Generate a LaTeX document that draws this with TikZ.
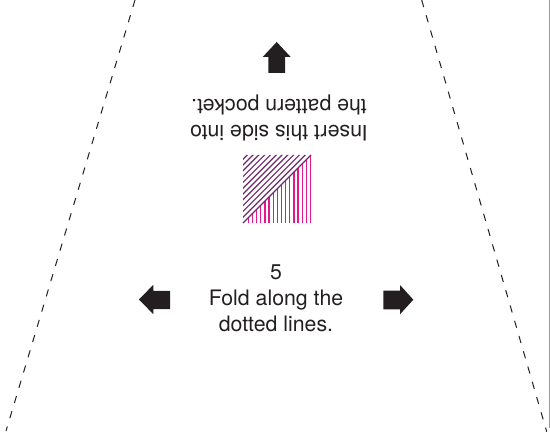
\documentclass[tikz,border=0pt]{standalone}
\usepackage{fontspec}
\setmainfont{TeX Gyre Heros}
\definecolor{ink}{HTML}{231F20}
\definecolor{hatchpurple}{HTML}{6E2A6A}
\definecolor{hatchpink}{HTML}{E5178C}
\tikzset{
  foldline/.style={draw=ink, line width=1pt, dash pattern=on 7.3pt off 8.6pt},
  arrowshape/.style={fill=ink, draw=none},
  lbltext/.style={text=ink, font=\fontsize{21.3}{26}\selectfont, inner sep=0pt, align=center},
  purplehatch/.style={draw=hatchpurple, line width=1.2pt},
  pinkhatch/.style={draw=hatchpink, line width=1.3pt}
}
\begin{document}
\begin{tikzpicture}[x=1pt,y=-1pt]
\useasboundingbox (0,0) rectangle (550,433);
% fold lines
\coordinate (lt) at (135,0);
\coordinate (lb) at (6,431);
\coordinate (rt) at (421.7,0);
\coordinate (rb) at (546.7,431.7);
\draw[foldline] (lt) -- (lb);
\draw[foldline] (rt) -- (rb);
% right edge
\coordinate (et) at (549.5,0);
\coordinate (eb) at (549.5,428);
\draw[gray!80, line width=0.8pt] (et) -- (eb);
% hatched square
\begin{scope}
  \clip (243,155) -- (311,155) -- (243,223) -- cycle;
  \draw[purplehatch] \foreach \k in {1,...,11} { (230,{466-\k*5.8-230}) -- (320,{466-\k*5.8-320}) };
\end{scope}
\draw[pinkhatch] \foreach \k in {0,...,15} { ({310.5-\k*4.15},{466-310.5+\k*4.15}) -- ({310.5-\k*4.15},223) };
\draw[purplehatch] (243,223) -- (311,155);
% arrows
\fill[arrowshape] (276.7,42) -- (290.7,57) -- (285,57) -- (285,73) -- (268.3,73) -- (268.3,57) -- (262.7,57) -- cycle;
\fill[arrowshape] (139,299.5) -- (153.3,284.8) -- (153.3,290.8) -- (170,290.8) -- (170,309.2) -- (153.3,309.2) -- (153.3,314.2) -- cycle;
\fill[arrowshape] (413.3,299.7) -- (400,285) -- (400,290.7) -- (383.3,290.7) -- (383.3,309.3) -- (400,309.3) -- (400,314.3) -- cycle;
% texts
\node[lbltext, anchor=north] (fold) at (276,265) {5\\Fold along the\\dotted lines.};
\node[lbltext, rotate=180] (insert) at (279,117.5) {Insert this side into\\the pattern pocket.};
\end{tikzpicture}
\end{document}
